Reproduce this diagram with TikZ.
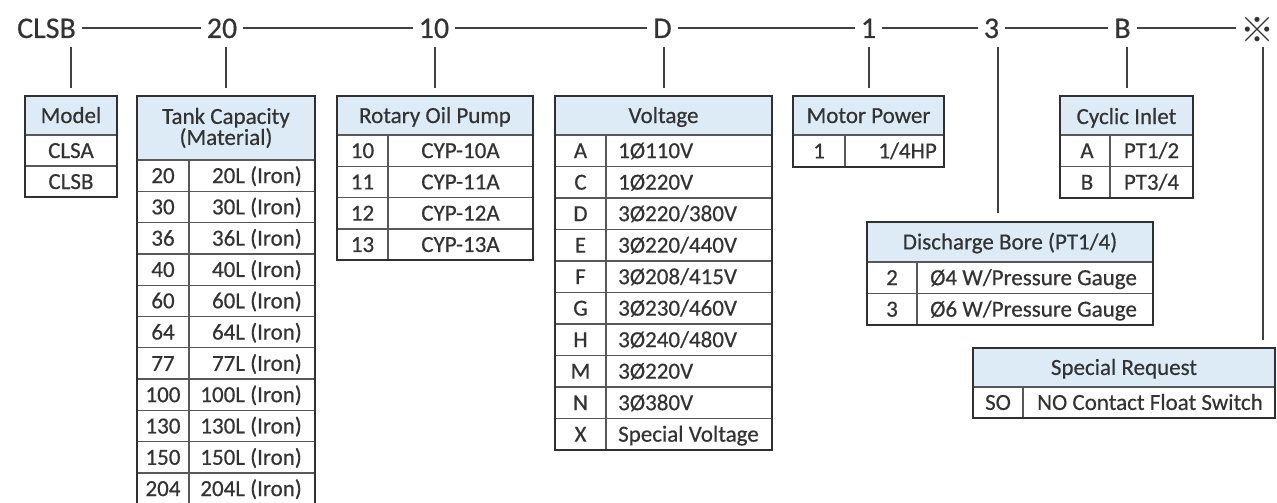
\documentclass[tikz,border=0pt]{standalone}
\usepackage{fontspec}
\setmainfont{Carlito}[RawFeature={embolden=0.5}]
\newfontfamily\cjkfont{Noto Sans CJK JP}
\definecolor{txt}{HTML}{333333}
\definecolor{hdr}{HTML}{DCEBF6}
\definecolor{frm}{HTML}{303030}
\definecolor{inl}{HTML}{585858}
\definecolor{con}{HTML}{404040}
\tikzset{
  toplabel/.style={font=\fontsize{30}{30}\selectfont, text=txt, inner xsep=6pt, inner ysep=9pt, text height=19pt, text depth=0pt, anchor=base},
  frame/.style={draw=frm, line width=2.2pt, inner sep=0pt, outer sep=0pt},
  hdrfill/.style={fill=hdr},
  innerline/.style={draw=inl, line width=1.3pt},
  cell/.style={font=\fontsize{23}{21}\selectfont, text=txt, inner sep=0pt},
  conn/.style={draw=con, line width=2pt}
}
% #1 name, #2 index, #3 y0, #4 row height, #5 code x, #6 code, #7 value x, #8 value anchor, #9 value
\newcommand\trow[9]{%
  \node[cell,anchor=base] (#1-c#2) at (#5,{#3+(#2-0.5)*#4+7.4}) {#6};
  \node[cell,anchor=#8] (#1-v#2) at (#7,{#3+(#2-0.5)*#4+7.4}) {#9};
}
\begin{document}
\begin{tikzpicture}[x=1pt,y=-1pt]
\useasboundingbox (0,0) rectangle (1277,503);

% ---------- top labels ----------
\node[toplabel] (lCLSB) at (46.5,38) {CLSB};
\node[toplabel] (l20) at (222,38) {20};
\node[toplabel] (l10) at (434,38) {10};
\node[toplabel] (lD) at (662.5,38) {D};
\node[toplabel] (l1) at (868.5,38) {1};
\node[toplabel] (l3) at (991.5,38) {3};
\node[toplabel] (lB) at (1122.5,38) {B};
\node[toplabel, anchor=center, inner xsep=0pt, inner ysep=4.8pt, text height=27.4pt, text depth=0pt,
      font=\cjkfont\fontsize{34}{34}\selectfont] (lX) at (1257,28.5) {※};
\coordinate (k3) at (998,0);
\coordinate (kX) at (1263,0);

\draw[conn] (lCLSB.east) -- (l20.west);
\draw[conn] (l20.east) -- (l10.west);
\draw[conn] (l10.east) -- (lD.west);
\draw[conn] (lD.east) -- (l1.west);
\draw[conn] (l1.east) -- (l3.west);
\draw[conn] (l3.east) -- (lB.west);
\draw[conn, shorten >=4pt] (lB.east) -- (lX.west);

% ---------- Model ----------
\fill[hdrfill] (25,96) rectangle (117,135);
\draw[innerline] (25,135) -- (117,135);
\draw[innerline] (25,166) -- (117,166);
\node[frame, minimum width=92pt, minimum height=101pt] (model) at (71,146.5) {};
\node[cell,anchor=base] (model-h) at (71,123) {Model};
\node[cell,anchor=base] (model-c1) at (71,158) {CLSA};
\node[cell,anchor=base] (model-c2) at (71,189) {CLSB};

% ---------- Tank Capacity ----------
\fill[hdrfill] (137,96) rectangle (315,160);
\draw[innerline] (137,160) -- (315,160);
\foreach \i in {1,...,10} \draw[innerline] (137,{160+\i*31.3}) -- (315,{160+\i*31.3});
\draw[innerline] (189,160) -- (189,504.3);
\node[frame, minimum width=178pt, minimum height=408.3pt] (tank) at (226,300.15) {};
\node[cell, align=center] (tank-h) at (226,128) {Tank Capacity\\(Material)};
\trow{tank}{1}{160}{31.3}{163}{20}{302}{base east}{20L (Iron)}
\trow{tank}{2}{160}{31.3}{163}{30}{302}{base east}{30L (Iron)}
\trow{tank}{3}{160}{31.3}{163}{36}{302}{base east}{36L (Iron)}
\trow{tank}{4}{160}{31.3}{163}{40}{302}{base east}{40L (Iron)}
\trow{tank}{5}{160}{31.3}{163}{60}{302}{base east}{60L (Iron)}
\trow{tank}{6}{160}{31.3}{163}{64}{302}{base east}{64L (Iron)}
\trow{tank}{7}{160}{31.3}{163}{77}{302}{base east}{77L (Iron)}
\trow{tank}{8}{160}{31.3}{163}{100}{302}{base east}{100L (Iron)}
\trow{tank}{9}{160}{31.3}{163}{130}{302}{base east}{130L (Iron)}
\trow{tank}{10}{160}{31.3}{163}{150}{302}{base east}{150L (Iron)}
\trow{tank}{11}{160}{31.3}{163}{204}{302}{base east}{204L (Iron)}

% ---------- Rotary Oil Pump ----------
\fill[hdrfill] (337,96) rectangle (533,135);
\draw[innerline] (337,135) -- (533,135);
\foreach \i in {1,...,3} \draw[innerline] (337,{135+\i*31.3}) -- (533,{135+\i*31.3});
\draw[innerline] (388,135) -- (388,260.2);
\node[frame, minimum width=196pt, minimum height=164.2pt] (rotary) at (435,178.1) {};
\node[cell,anchor=base] (rotary-h) at (435,123) {Rotary Oil Pump};
\trow{rotary}{1}{135}{31.3}{362.5}{10}{460.5}{base}{CYP-10A}
\trow{rotary}{2}{135}{31.3}{362.5}{11}{460.5}{base}{CYP-11A}
\trow{rotary}{3}{135}{31.3}{362.5}{12}{460.5}{base}{CYP-12A}
\trow{rotary}{4}{135}{31.3}{362.5}{13}{460.5}{base}{CYP-13A}

% ---------- Voltage ----------
\fill[hdrfill] (555,96) rectangle (772,135);
\draw[innerline] (555,135) -- (772,135);
\foreach \i in {1,...,9} \draw[innerline] (555,{135+\i*31.5}) -- (772,{135+\i*31.5});
\draw[innerline] (606,135) -- (606,450);
\node[frame, minimum width=217pt, minimum height=354pt] (volt) at (663.5,273) {};
\node[cell,anchor=base] (volt-h) at (663.5,123) {Voltage};
\trow{volt}{1}{135}{31.5}{580.5}{A}{618}{base west}{1Ø110V}
\trow{volt}{2}{135}{31.5}{580.5}{C}{618}{base west}{1Ø220V}
\trow{volt}{3}{135}{31.5}{580.5}{D}{618}{base west}{3Ø220/380V}
\trow{volt}{4}{135}{31.5}{580.5}{E}{618}{base west}{3Ø220/440V}
\trow{volt}{5}{135}{31.5}{580.5}{F}{618}{base west}{3Ø208/415V}
\trow{volt}{6}{135}{31.5}{580.5}{G}{618}{base west}{3Ø230/460V}
\trow{volt}{7}{135}{31.5}{580.5}{H}{618}{base west}{3Ø240/480V}
\trow{volt}{8}{135}{31.5}{580.5}{M}{618}{base west}{3Ø220V}
\trow{volt}{9}{135}{31.5}{580.5}{N}{618}{base west}{3Ø380V}
\trow{volt}{10}{135}{31.5}{580.5}{X}{618}{base west}{Special Voltage}

% ---------- Motor Power ----------
\fill[hdrfill] (793,96) rectangle (944,135);
\draw[innerline] (793,135) -- (944,135);
\draw[innerline] (845,135) -- (845,167);
\node[frame, minimum width=151pt, minimum height=71pt] (motor) at (868.5,131.5) {};
\node[cell,anchor=base] (motor-h) at (868.5,123) {Motor Power};
\trow{motor}{1}{135}{32}{819}{1}{937}{base east}{1/4HP}

% ---------- Cyclic Inlet ----------
\fill[hdrfill] (1060,96) rectangle (1193,135);
\draw[innerline] (1060,135) -- (1193,135);
\draw[innerline] (1060,166.5) -- (1193,166.5);
\draw[innerline] (1110,135) -- (1110,198);
\node[frame, minimum width=133pt, minimum height=102pt] (cyclic) at (1126.5,147) {};
\node[cell,anchor=base] (cyclic-h) at (1126.5,124) {Cyclic Inlet};
\trow{cyclic}{1}{135}{31.5}{1087}{A}{1151.5}{base}{PT1/2}
\trow{cyclic}{2}{135}{31.5}{1087}{B}{1151.5}{base}{PT3/4}

% ---------- Discharge Bore ----------
\fill[hdrfill] (867,222) rectangle (1153,262);
\draw[innerline] (867,262) -- (1153,262);
\draw[innerline] (867,293.5) -- (1153,293.5);
\draw[innerline] (917,262) -- (917,325);
\node[frame, minimum width=286pt, minimum height=103pt] (disc) at (1010,273.5) {};
\node[cell,anchor=base] (disc-h) at (1010,249.4) {Discharge Bore (PT1/4)};
\trow{disc}{1}{262}{31.5}{892}{2}{930}{base west}{Ø4 W/Pressure Gauge}
\trow{disc}{2}{262}{31.5}{892}{3}{930}{base west}{Ø6 W/Pressure Gauge}

% ---------- Special Request ----------
\fill[hdrfill] (973,348) rectangle (1275,387);
\draw[innerline] (973,387) -- (1275,387);
\draw[innerline] (1023,387) -- (1023,418);
\node[frame, minimum width=302pt, minimum height=70pt] (special) at (1124,383) {};
\node[cell,anchor=base] (special-h) at (1124,374.9) {Special Request};
\trow{special}{1}{387}{31}{998}{SO}{1150}{base}{NO Contact Float Switch}

% ---------- vertical connectors ----------
\draw[conn, shorten >=8pt] (lCLSB.south -| model.north) -- (model.north);
\draw[conn, shorten >=8pt] (l20.south -| tank.north) -- (tank.north);
\draw[conn, shorten >=8pt] (l10.south -| rotary.north) -- (rotary.north);
\draw[conn, shorten >=8pt] (lD.south -| volt.north) -- (volt.north);
\draw[conn, shorten >=8pt] (l1.south -| motor.north) -- (motor.north);
\draw[conn, shorten >=9pt] (l3.south -| k3) -- (disc.north -| k3);
\draw[conn, shorten >=8pt] (lB.south -| cyclic.north) -- (cyclic.north);
\draw[conn, shorten >=8pt] (lX.south -| kX) -- (special.north -| kX);
\end{tikzpicture}
\end{document}
